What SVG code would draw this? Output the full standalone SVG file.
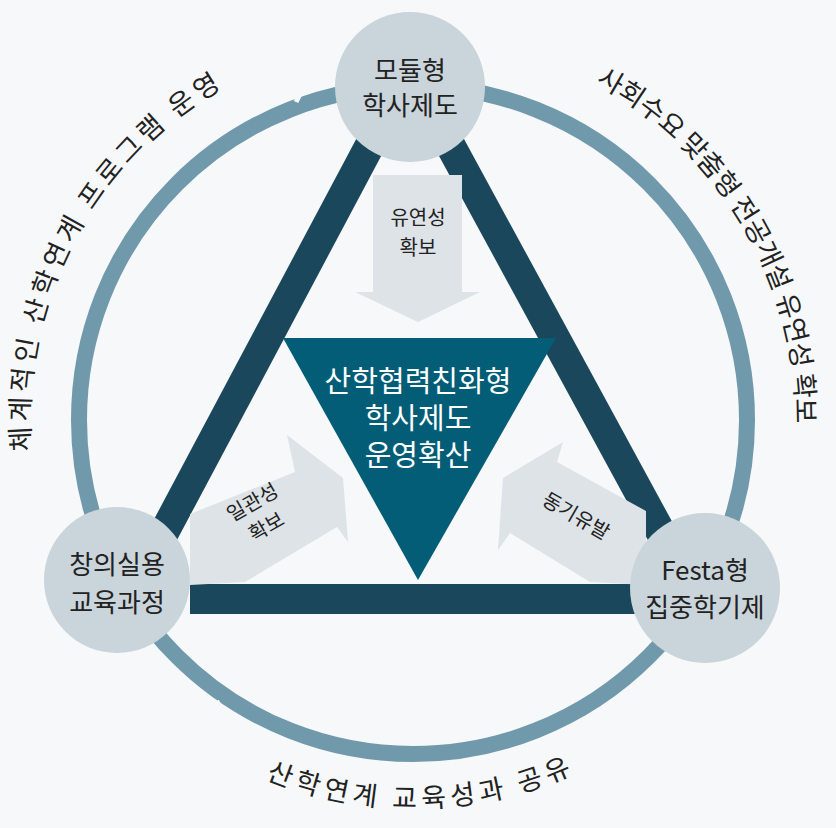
<svg xmlns="http://www.w3.org/2000/svg" width="836" height="828" viewBox="0 0 836 828">
<style>
text{font-family:"Noto Sans CJK KR","Noto Sans",sans-serif;fill:#222}
.node{fill:#c9d4db}
.nt{font-size:26px;text-anchor:middle}
.ring{font-size:27px}
.al{font-size:20px;text-anchor:middle}
.ct{font-size:29px;fill:#fff;text-anchor:middle}
.arr{fill:#dde3e6}
</style>
<defs>
<path id="pTop" d="M35.8,486.5 A383,383 0 1 1 790.2,486.5"/>
<path id="pBot" d="M77,614 A388,388 0 0 0 749,614"/>
</defs>
<rect width="836" height="828" fill="#f6f8f9"/>
<g id="connectors">
<circle cx="413" cy="420" r="334" fill="none" stroke="#7199ac" stroke-width="16"/>
<polyline points="290,74 304,86 296,102" fill="none" stroke="#f6f8f9" stroke-width="5"/>
<polyline points="756,452 768,463 780,452" fill="none" stroke="#f6f8f9" stroke-width="5"/>
<polyline points="220,702 207,710 213,724" fill="none" stroke="#f6f8f9" stroke-width="5"/>
<line x1="378" y1="130" x2="160" y2="540" stroke="#1a475b" stroke-width="30"/>
<line x1="442" y1="130" x2="665" y2="540" stroke="#1a475b" stroke-width="30"/>
<rect x="190" y="584" width="455" height="30" fill="#1a475b"/>
<polygon class="arr" points="373,175 462,175 462,292 480,292 418,322 355,292 373,292"/>
<polygon class="arr" points="190,514 295,472 287,435 343,478 348,542 337,527 245,582 190,585"/>
<polygon class="arr" points="646,511 557,462 563,442 503,478 498,550 510,533 590,582 646,585"/>
</g>
<g id="center">
<polygon points="283,338 556,338 418,580" fill="#035d77"/>
<text class="ct" x="418" y="392">산학협력친화형</text>
<text class="ct" x="418" y="429">학사제도</text>
<text class="ct" x="418" y="466">운영확산</text>
</g>
<g id="labels">
<text class="al" x="418" y="225">유연성</text>
<text class="al" x="418" y="255">확보</text>
<g transform="translate(258,512) rotate(-30)"><text class="al" x="0" y="-4">일관성</text><text class="al" x="0" y="24">확보</text></g>
<g transform="translate(576,516) rotate(30)"><text class="al" x="0" y="7">동기유발</text></g>
</g>
<g id="node-top"><circle class="node" cx="410" cy="87" r="75"/>
<text class="nt" x="410" y="80">모듈형</text><text class="nt" x="410" y="115">학사제도</text></g>
<g id="node-left"><circle class="node" cx="117" cy="580" r="73"/>
<text class="nt" x="117" y="574">창의실용</text><text class="nt" x="117" y="612">교육과정</text></g>
<g id="node-right"><circle class="node" cx="705" cy="588" r="75"/>
<text class="nt" x="705" y="580">Festa형</text><text class="nt" x="705" y="617">집중학기제</text></g>
<g id="ring-text">
<text class="ring"><textPath href="#pTop" startOffset="36" textLength="432" lengthAdjust="spacing">체계적인 산학연계 프로그램 운영</textPath></text>
<text class="ring"><textPath href="#pTop" startOffset="858" textLength="415" lengthAdjust="spacing">사회수요 맞춤형 전공개설 유연성 확보</textPath></text>
<text class="ring"><textPath href="#pBot" startOffset="255" textLength="315" lengthAdjust="spacing">산학연계 교육성과 공유</textPath></text>
</g>
</svg>
